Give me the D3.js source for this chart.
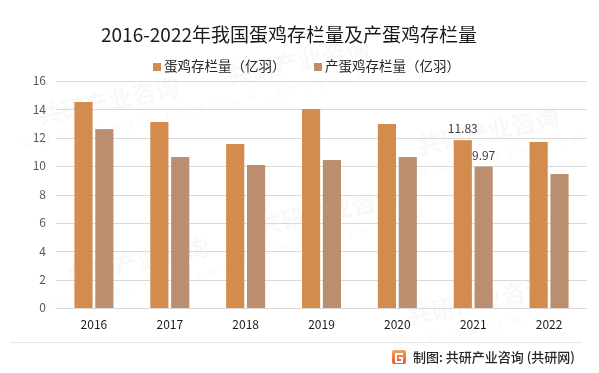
<!DOCTYPE html>
<html>
<head>
<meta charset="utf-8">
<script src="https://cdn.jsdelivr.net/npm/d3@7"></script>
<style>
  html, body { margin: 0; padding: 0; background: #fff; }
  svg { display: block; }
</style>
</head>
<body>
<script>
const years = ["2016", "2017", "2018", "2019", "2020", "2021", "2022"];
const seriesNames = ["蛋鸡存栏量（亿羽）", "产蛋鸡存栏量（亿羽）"];
const layingHens = [14.52, 13.11, 11.56, 14.02, 12.97, 11.83, 11.70];
const producingHens = [12.61, 10.64, 10.08, 10.43, 10.64, 9.97, 9.44];
const yTicks = [0, 2, 4, 6, 8, 10, 12, 14, 16];
const labelledYear = "2021";

const W = 599, H = 373;
const colors = ["#D38B4E", "#BA8E6E"];
const font = "'Noto Sans CJK SC', 'Noto Sans', sans-serif";

const svg = d3.select("body").append("svg")
  .attr("width", W)
  .attr("height", H);

// faint watermarks, kept inside the picture
const wm = svg.append("g").attr("fill", "#000").attr("opacity", 0.03)
  .attr("font-family", font).attr("font-weight", "bold");
[[110, 110], [300, 70], [490, 140], [140, 270], [330, 220], [480, 310]].forEach(([x, y]) => {
  wm.append("text").attr("transform", `translate(${x},${y}) rotate(-12)`)
    .attr("text-anchor", "middle").attr("font-size", 24).text("共研产业咨询");
  wm.append("text").attr("transform", `translate(${x + 8},${y + 20}) rotate(-12)`)
    .attr("text-anchor", "middle").attr("font-size", 13).attr("font-weight", "normal")
    .attr("letter-spacing", 7).text("www.gonyn.com");
});

// title
svg.append("text")
  .attr("x", 289).attr("y", 42)
  .attr("text-anchor", "middle")
  .attr("font-family", font)
  .attr("font-size", 19)
  .attr("fill", "#1a1a1a")
  .text("2016-2022年我国蛋鸡存栏量及产蛋鸡存栏量");

const x = d3.scaleBand().domain(years).range([56, 587]);
const inner = d3.scaleBand().domain([0, 1]).range([0, 39]).paddingInner(0.13);
const y = d3.scaleLinear().domain([0, 16]).range([308, 81]);

// gridlines
svg.append("g")
  .selectAll("line").data(yTicks).join("line")
  .attr("x1", 56).attr("x2", 587)
  .attr("y1", d => Math.round(y(d)) + 0.5).attr("y2", d => Math.round(y(d)) + 0.5)
  .attr("stroke", "#d9d9d9").attr("stroke-width", 1);

// y axis labels
const yAxis = svg.append("g")
  .attr("transform", "translate(46,0)")
  .call(d3.axisLeft(y).tickValues(yTicks).tickSize(0).tickPadding(0));
yAxis.select(".domain").remove();
yAxis.selectAll("text")
  .attr("font-family", font).attr("font-size", 12).attr("fill", "#595959");

// bars
const series = [layingHens, producingHens];
series.forEach((vals, s) => {
  svg.append("g").selectAll("rect").data(years).join("rect")
    .attr("x", d => x(d) + (x.bandwidth() - 39) / 2 + inner(s))
    .attr("y", (d, i) => y(vals[i]))
    .attr("width", inner.bandwidth())
    .attr("height", (d, i) => y(0) - y(vals[i]))
    .attr("fill", colors[s]);
});

// data labels
series.forEach((vals, s) => {
  const i = years.indexOf(labelledYear);
  svg.append("text")
    .attr("x", x(labelledYear) + (x.bandwidth() - 39) / 2 + inner(s) + inner.bandwidth() / 2)
    .attr("y", y(vals[i]) - 7)
    .attr("text-anchor", "middle")
    .attr("font-family", font).attr("font-size", 12).attr("fill", "#404040")
    .text(vals[i].toFixed(2));
});

// x axis labels
const xAxis = svg.append("g")
  .attr("transform", "translate(0,308)")
  .call(d3.axisBottom(x).tickSize(0).tickPadding(12));
xAxis.select(".domain").remove();
xAxis.selectAll("text")
  .attr("font-family", font).attr("font-size", 12).attr("fill", "#1a1a1a");

// legend
const legendX = [153, 314];
seriesNames.forEach((name, s) => {
  svg.append("rect")
    .attr("x", legendX[s]).attr("y", 63)
    .attr("width", 8).attr("height", 8)
    .attr("fill", colors[s]);
  svg.append("text")
    .attr("x", legendX[s] + 11).attr("y", 67)
    .attr("dominant-baseline", "middle")
    .attr("font-family", font).attr("font-size", 13.5).attr("fill", "#262626")
    .text(name);
});

// bottom separator
svg.append("line")
  .attr("x1", 10).attr("x2", 582).attr("y1", 342.5).attr("y2", 342.5)
  .attr("stroke", "#e6e6e6");

// footer logo
const grad = svg.append("defs").append("linearGradient")
  .attr("id", "logoGrad").attr("x1", 0).attr("y1", 0).attr("x2", 0).attr("y2", 1);
grad.append("stop").attr("offset", "0%").attr("stop-color", "#F5A25A");
grad.append("stop").attr("offset", "100%").attr("stop-color", "#E8553A");
svg.append("rect")
  .attr("x", 392).attr("y", 350).attr("width", 14).attr("height", 14).attr("rx", 2)
  .attr("fill", "url(#logoGrad)");
svg.append("path")
  .attr("d", "M395,353 h8 v2 h-6 v6 h4 v-2 h-2 v-2 h4 v6 h-8 z")
  .attr("fill", "#fff");

svg.append("text")
  .attr("x", 413).attr("y", 362)
  .attr("font-family", font).attr("font-size", 13).attr("font-weight", 500)
  .attr("fill", "#262626")
  .text("制图: 共研产业咨询 (共研网)");
</script>
</body>
</html>
